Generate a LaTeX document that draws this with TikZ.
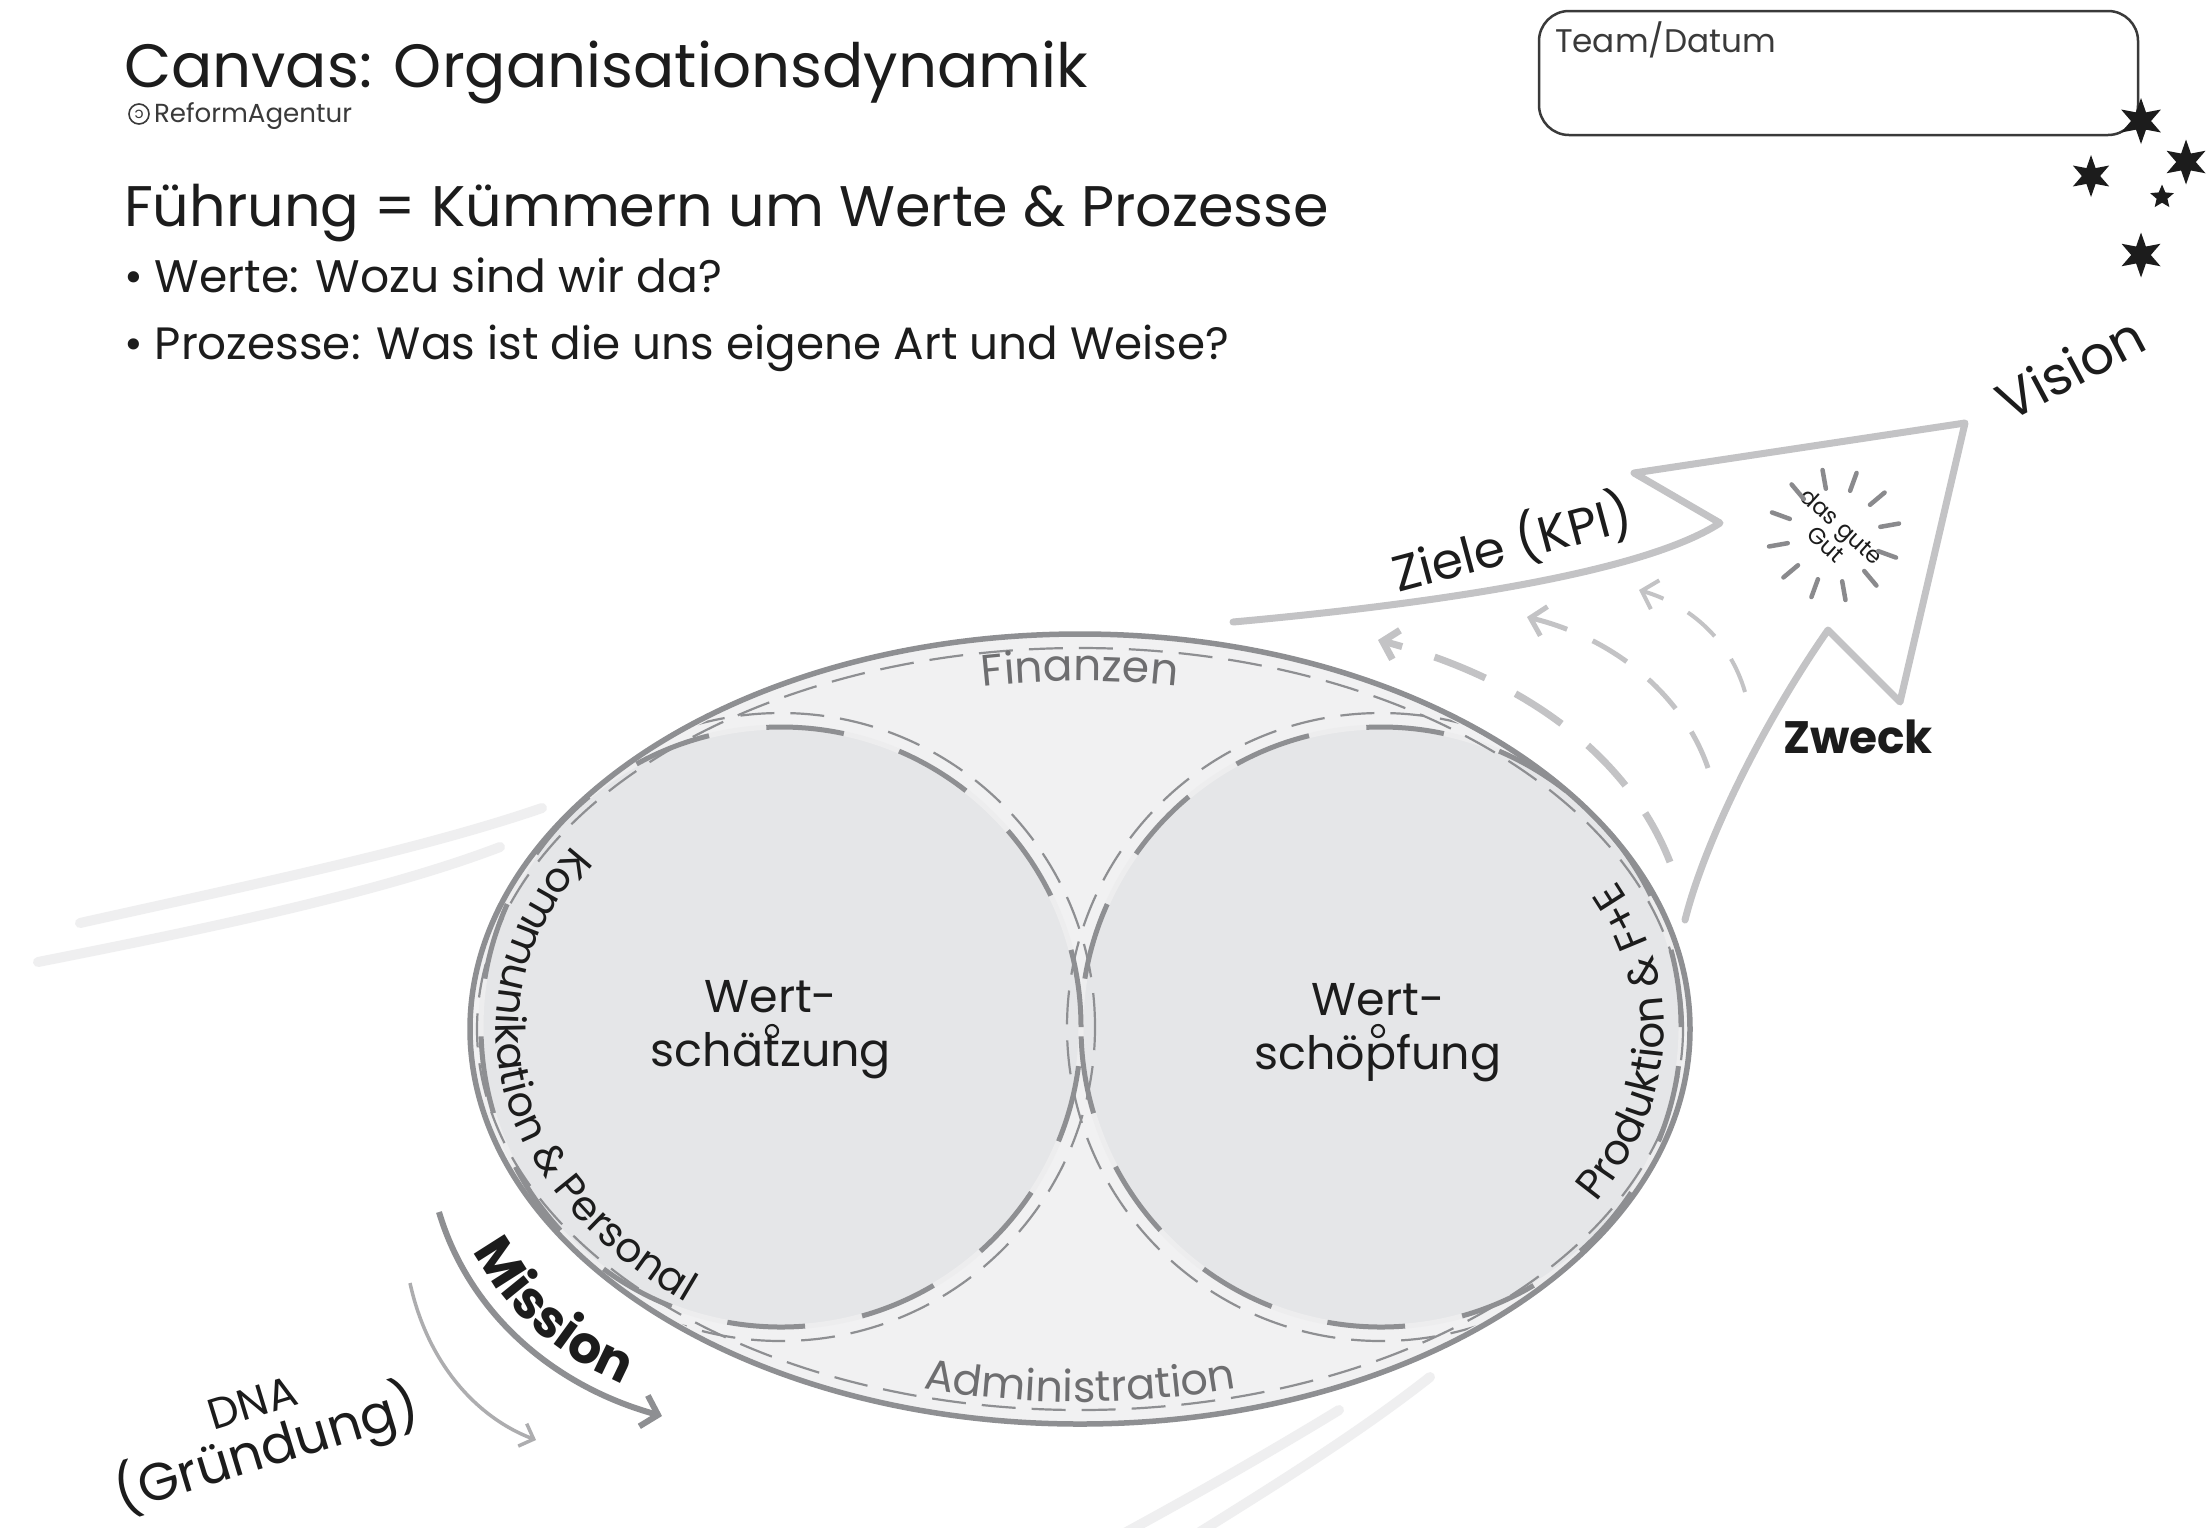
\documentclass[tikz,border=0pt]{standalone}
\usepackage{fontspec}
\usepackage{graphicx}
\setmainfont{Poppins}
\usetikzlibrary{shapes.geometric,arrows.meta,decorations.text}

\definecolor{ink}{HTML}{1C1C1C}
\definecolor{softink}{HTML}{3A3A3A}
\definecolor{rim}{HTML}{8E8F92}
\definecolor{lens}{HTML}{F1F1F2}
\definecolor{disc}{HTML}{E5E6E8}
\definecolor{halo}{HTML}{EDEDEE}
\definecolor{flow}{HTML}{C3C3C5}
\definecolor{trail}{HTML}{EFEFF0}
\definecolor{label}{HTML}{6E6E70}
\definecolor{dnagray}{HTML}{ADADAF}
\definecolor{raygray}{HTML}{8A8A8D}

\newcommand{\sized}[1]{\fontsize{#1}{#1}\selectfont}

\tikzset{
  every node/.style={inner sep=0pt, outer sep=0pt},
  trailstroke/.style={draw=trail, line width=10, line cap=round},
  lensrim/.style={draw=rim, line width=5.5},
  thinring/.style={draw=rim, line width=2.2, dash pattern=on 34pt off 16pt},
  thickring/.style={draw=rim, line width=5, dash pattern=on 78pt off 58pt},
  flowline/.style={draw=flow, line width=7, line cap=round, line join=round},
  flowdash/.style={draw=flow, -{Straight Barb[length=14pt,width=30pt]}},
  raystroke/.style={draw=raygray, line width=4.5, line cap=round},
  headline/.style={anchor=base west, text=ink},
  star mark/.style={star, star points=6, star point ratio=2.3, fill=ink},
  rimtext/.style={decorate, decoration={text along path, text align=center, text color=#1}},
}

\begin{document}
\begin{tikzpicture}[x=1pt,y=1pt]
\useasboundingbox (0,0) rectangle (2210,-1527);
\fill[white] (0,0) rectangle (2210,-1527);

% motion trails
\draw[trailstroke] (80,-923) .. controls (250,-885) and (420,-850) .. (542,-808);
\draw[trailstroke] (38,-962) .. controls (200,-930) and (380,-893) .. (500,-847);
\draw[trailstroke] (1430,-1377) .. controls (1360,-1432) and (1280,-1482) .. (1195,-1535);
\draw[trailstroke] (1339,-1410) .. controls (1270,-1452) and (1200,-1492) .. (1121,-1535);

% header
\node[headline] (title) at (124,-87) {\resizebox{964pt}{!}{Canvas: Organisationsdynamik}};
\node[circle, draw=softink, line width=1.6, minimum size=20, text=softink] (copyleft) at (139,-114) {\sized{15}\reflectbox{c}};
\node[headline, text=softink] (brand) at (154,-122) {\resizebox{198pt}{!}{ReformAgentur}};
\node[headline] (lead) at (124,-226) {\resizebox{1205pt}{!}{Führung = Kümmern um Werte \& Prozesse}};
\node[headline] (b1) at (124,-292) {\resizebox{598pt}{!}{• Werte: Wozu sind wir da?}};
\node[headline] (b2) at (124,-359) {\resizebox{1105pt}{!}{• Prozesse: Was ist die uns eigene Art und Weise?}};

% team box and stars
\node[draw=softink, line width=2.5, rounded corners=30, minimum width=599, minimum height=124, anchor=north west] (team) at (1539,-11) {};
\node[headline, text=softink] (teamlabel) at (1555,-52) {\resizebox{221pt}{!}{Team/Datum}};
\node[star mark, minimum size=46] (st1) at (2141,-121) {};
\node[star mark, minimum size=42] (st2) at (2091,-176) {};
\node[star mark, minimum size=45] (st3) at (2186,-162) {};
\node[star, star points=5, star point ratio=2.2, fill=ink, minimum size=25] (st4) at (2162,-197) {};
\node[star mark, minimum size=45] (st5) at (2141,-255) {};

% lens with the two value circles
\coordinate (lc) at (1080,-1029);
\coordinate (lw) at (781,-1027);
\coordinate (le) at (1381,-1027);
\fill[lens] (lc) ellipse[x radius=610, y radius=395];
\filldraw[fill=disc, draw=halo, line width=5] (lw) circle[radius=300];
\filldraw[fill=disc, draw=halo, line width=5] (le) circle[radius=300];
\begin{scope}
  \clip (lc) ellipse[x radius=606, y radius=391];
  \draw[thinring] (lw) circle[radius=314];
  \draw[thinring] (le) circle[radius=314];
\end{scope}
\draw[thinring] (lc) ellipse[x radius=603, y radius=381];
\draw[thickring] (lw) circle[radius=300];
\draw[thickring] (le) circle[radius=300];
\draw[lensrim] (lc) ellipse[x radius=610, y radius=395];

% labels along the rim
\path[rimtext=label, decoration={text={|\sized{44}|Finanzen}}]
  (906.95,-698.03) arc[start angle=108, end angle=72, x radius=560, y radius=348];
\path[rimtext=label, decoration={text={|\sized{43}|Administration}}]
  (768.4,-1345.3) arc[start angle=238, end angle=302, x radius=588, y radius=373];
\path[rimtext=ink, decoration={text={|\sized{41}|Kommunikation {\&} Personal}}]
  (674.3,-762.1) arc[start angle=134, end angle=242, x radius=584, y radius=371];
\path[rimtext=ink, decoration={text={|\sized{42}|Produktion {\&} F+E}}]
  (1540.2,-1257.4) arc[start angle=-38, end angle=34, x radius=584, y radius=371];

% circle titles
\node[align=center, text=ink, font=\fontsize{46}{54}\selectfont] (schaetzung) at (771,-1030) {Wert-\\schätzung};
\node[align=center, text=ink, font=\fontsize{46}{54}\selectfont] (schoepfung) at (1378,-1033) {Wert-\\schöpfung};
\node[circle, draw=ink, line width=2.2, minimum size=12] (ringL) at (772,-1031) {};
\node[circle, draw=ink, line width=2.2, minimum size=12] (ringR) at (1378,-1031) {};

% purpose arrow towards the vision
\draw[flowline] (1233,-622) .. controls (1420,-605) and (1640,-575) .. (1720,-523)
  -- (1634,-473) -- (1965,-423) -- (1900,-702) -- (1828,-630)
  .. controls (1765,-720) and (1705,-840) .. (1685,-920);

% feedback arcs
\coordinate (fa1) at (1670,-862); \coordinate (fa2) at (1378,-640);
\coordinate (fb1) at (1708,-768); \coordinate (fb2) at (1527,-617);
\coordinate (fc1) at (1745,-692); \coordinate (fc2) at (1639,-590);
\draw[flowdash, line width=7, dash pattern=on 55pt off 34pt] (fa1) .. controls (1630,-760) and (1530,-680) .. (fa2);
\draw[flowdash, line width=5, dash pattern=on 40pt off 28pt] (fb1) .. controls (1685,-700) and (1620,-640) .. (fb2);
\draw[flowdash, line width=4, dash pattern=on 36pt off 28pt] (fc1) .. controls (1730,-640) and (1690,-605) .. (fc2);

% arrow labels
\node[rotate=15, text=ink] (ziele) at (1512,-543) {\resizebox{245pt}{!}{Ziele (KPI)}};
\node[rotate=28, text=ink] (vision) at (2070,-368) {\resizebox{158pt}{!}{Vision}};
\node[text=ink] (zweck) at (1858,-737) {\resizebox{150pt}{!}{\bfseries Zweck}};

% the common good, with rays
\coordinate (gutc) at (1834,-535);
\node[rotate=-42, align=center, text=ink, font=\fontsize{23}{24}\selectfont] (gut) at (gutc) {das gute\\Gut};
\foreach \a in {-20,10,...,310}
  \draw[raystroke] (gutc) ++(\a:47) -- ++(\a:19);

% mission and origin
\coordinate (missS) at (439,-1212); \coordinate (missE) at (662,-1416);
\draw[draw=rim, line width=6, -{Straight Barb[length=15pt,width=32pt]}]
  (missS) .. controls (468,-1310) and (550,-1385) .. (missE);
\path[rimtext=ink, decoration={text={|\sized{52}\bfseries|Mission}}]
  (453,-1200) .. controls (485,-1305) and (565,-1372) .. (675,-1402);

\coordinate (dnaS) at (410,-1283); \coordinate (dnaE) at (536,-1440);
\draw[draw=dnagray, line width=3.5, -{Straight Barb[length=12pt,width=24pt]}]
  (dnaS) .. controls (428,-1365) and (478,-1418) .. (dnaE);
\node[rotate=17, align=center, text=ink] (dna) at (262,-1434)
  {\resizebox{90pt}{!}{DNA}\\[1pt]\resizebox{315pt}{!}{(Gründung)}};

\end{tikzpicture}
\end{document}
